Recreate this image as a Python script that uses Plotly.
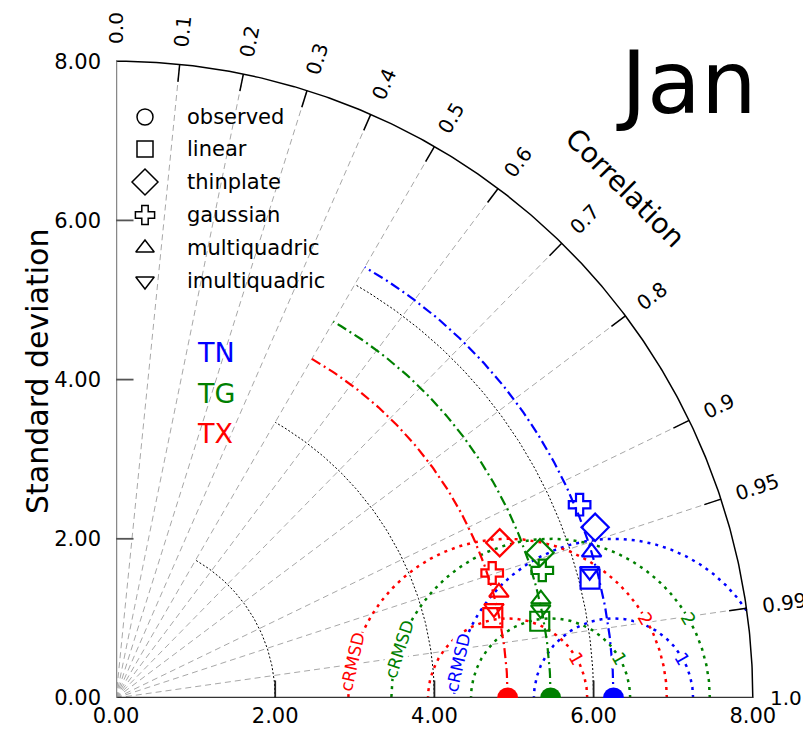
import numpy as np
import plotly.graph_objects as go

# ---------------- data ----------------
title_text = "Jan"
variables = ["TN", "TG", "TX"]
var_colors = ["#0000ff", "#008000", "#ff0000"]
obs_std = [6.25, 5.46, 4.92]

methods = ["linear", "thinplate", "gaussian", "multiquadric", "imultiquadric"]
method_symbols = ["square-open", "diamond-open", "cross-open", "triangle-up-open", "triangle-down-open"]
method_sizes = [19, 21, 18, 17, 17]

TN_std = [6.14, 6.39, 6.31, 6.25, 6.16]
TN_corr = [0.970, 0.942, 0.923, 0.956, 0.966]
TG_std = [5.41, 5.63, 5.59, 5.48, 5.45]
TG_corr = [0.984, 0.946, 0.958, 0.974, 0.979]
TX_std = [4.84, 5.20, 4.98, 4.99, 4.88]
TX_corr = [0.978, 0.927, 0.949, 0.964, 0.973]
model_std = [TN_std, TG_std, TX_std]
model_corr = [TN_corr, TG_corr, TX_corr]

corr_ticks = [0.0, 0.1, 0.2, 0.3, 0.4, 0.5, 0.6, 0.7, 0.8, 0.9, 0.95, 0.99, 1.0]
corr_labels = ["0.0", "0.1", "0.2", "0.3", "0.4", "0.5", "0.6", "0.7", "0.8", "0.9", "0.95", "0.99", "1.0"]
std_ticks = [0, 2, 4, 6, 8]
std_grid = [2, 4, 6]
crmsd_levels = [1, 2]
max_std = 8.0
arc_corr_min = 0.5

# ---------------- layout geometry ----------------
BODY = 8                      # page body margin of the html output
W, H = 811 - BODY, 736 - BODY
OX, OY = 116, 698             # origin in page pixels
ML = OX - BODY
MB = H - (OY - BODY)
S = 79.6                      # pixels per unit
PW, PH = W - ML, H - MB
XR = PW / S
YR = PH / S
FONT = "DejaVu Sans"


def px(xp, yp):
    """page pixel -> data coordinates"""
    return (xp - OX) / S, (OY - yp) / S


def polar(r, corr):
    t = np.arccos(np.clip(corr, -1, 1))
    return r * np.cos(t), r * np.sin(t)


fig = go.Figure()


def line(x, y, color, width, dash="solid"):
    fig.add_trace(go.Scatter(x=list(x), y=list(y), mode="lines",
                             line=dict(color=color, width=width, dash=dash),
                             hoverinfo="skip", showlegend=False))


# radial correlation lines
for c in corr_ticks[1:-1]:
    x, y = polar(np.array([0.0, max_std]), c)
    line(x, y, "#a8a8a8", 1, "6px,4px")

# std grid arcs (0..60 deg)
for r in std_grid:
    th = np.linspace(0, np.arccos(arc_corr_min), 100)
    line(r * np.cos(th), r * np.sin(th), "#000000", 1, "2px,2px")

# CRMSD circles
for vi, o in enumerate(obs_std):
    for lev in crmsd_levels:
        ph = np.linspace(0, np.pi, 400)
        xs = o + lev * np.cos(ph)
        ys = lev * np.sin(ph)
        rr = np.hypot(xs, ys)
        xs = np.where(rr <= max_std, xs, np.nan)
        ys = np.where(rr <= max_std, ys, np.nan)
        fig.add_trace(go.Scatter(x=xs, y=ys, mode="lines",
                                 line=dict(color=var_colors[vi], width=2.5, dash="3px,5px"),
                                 hoverinfo="skip", showlegend=False, connectgaps=False))

# observed std arcs (dash-dot)
for vi, o in enumerate(obs_std):
    th = np.linspace(0, np.arccos(arc_corr_min), 150)
    line(o * np.cos(th), o * np.sin(th), var_colors[vi], 2.2, "10px,4px,2px,4px")

# outer arc
th = np.linspace(0, np.pi / 2, 300)
line(max_std * np.cos(th), max_std * np.sin(th), "#000000", 1.5)
# correlation ticks
for c in corr_ticks[1:-1]:
    x, y = polar(np.array([max_std - 0.22, max_std]), c)
    line(x, y, "#000000", 1.5)

# axes lines
line([0, max_std], [0, 0], "#333333", 2.5)
line([0, 0], [0, max_std], "#888888", 2.5)
for t in std_ticks[1:-1]:
    line([t, t], [0, 0.22], "#222222", 1.8)
    line([0, 0.22], [t, t], "#555555", 1.8)

# model markers
for vi in range(len(variables)):
    for mi in range(len(methods)):
        x, y = polar(model_std[vi][mi], model_corr[vi][mi])
        fig.add_trace(go.Scatter(x=[x], y=[y], mode="markers",
                                 marker=dict(symbol=method_symbols[mi], size=method_sizes[mi],
                                             color=var_colors[vi],
                                             line=dict(color=var_colors[vi], width=2.2)),
                                 hoverinfo="skip", showlegend=False))

# observed points (filled circles on x axis)
for vi, o in enumerate(obs_std):
    fig.add_trace(go.Scatter(x=[o], y=[0], mode="markers",
                             marker=dict(symbol="circle", size=21, color=var_colors[vi]),
                             hoverinfo="skip", showlegend=False))

# legend (manual)
leg_names = ["observed"] + methods
leg_syms = ["circle-open"] + method_symbols
leg_sizes = [16, 16, 20, 16, 16, 16]
leg_rows = [117, 149, 182, 215, 248, 281]
for name, sym, sz, yp in zip(leg_names, leg_syms, leg_sizes, leg_rows):
    x, y = px(145, yp)
    fig.add_trace(go.Scatter(x=[x], y=[y], mode="markers",
                             marker=dict(symbol=sym, size=sz, color="#000000",
                                         line=dict(color="#000000", width=1.5)),
                             hoverinfo="skip", showlegend=False, cliponaxis=False))
    tx, ty = px(185, yp)
    fig.add_annotation(x=tx, y=ty, text=name, showarrow=False, xanchor="left", yanchor="middle",
                       font=dict(family=FONT, size=21, color="#000000"))

annotations = []
# correlation labels
for c, lab in zip(corr_ticks, corr_labels):
    t = np.arccos(c)
    rc = 8.22 + 0.5 * len(lab) * 10.5 / S
    annotations.append(dict(x=rc * np.cos(t), y=rc * np.sin(t), text=lab, showarrow=False,
                            textangle=-np.degrees(t), xanchor="center", yanchor="middle",
                            font=dict(family=FONT, size=20, color="#000000")))
# Correlation title
t = np.radians(45.1)
annotations.append(dict(x=9.05 * np.cos(t), y=9.05 * np.sin(t), text="Correlation", showarrow=False,
                        textangle=45, xanchor="center", yanchor="middle",
                        font=dict(family=FONT, size=28, color="#000000")))
# Jan
jx, jy = px(686, 82)
annotations.append(dict(x=jx, y=jy, text=title_text, showarrow=False, xanchor="center", yanchor="middle",
                        font=dict(family=FONT, size=88, color="#000000")))
# variable labels
for vi, (name, yp) in enumerate(zip(variables, [352, 393, 433])):
    x, y = px(195, yp)
    annotations.append(dict(x=x, y=y, text=name, showarrow=False, xanchor="left", yanchor="middle",
                            font=dict(family=FONT, size=27, color=var_colors[vi])))

# crmsd labels
crmsd_label_phi = [167, 162, 167]  # degrees on the level-2 circle (TN, TG, TX)
for vi, o in enumerate(obs_std):
    ph = np.radians(crmsd_label_phi[vi])
    annotations.append(dict(x=o + 2 * np.cos(ph), y=2 * np.sin(ph), text="cRMSD", showarrow=False,
                            textangle=-(crmsd_label_phi[vi] - 90), bgcolor="rgba(255,255,255,1)",
                            borderpad=0, xanchor="center", yanchor="middle",
                            font=dict(family=FONT, size=17, color=var_colors[vi])))
    for lev in crmsd_levels:
        ph = np.arcsin(min(1.0, 1.0 / lev * (0.5 if lev == 1 else 1.0)))
        lx, ly = o + lev * np.cos(ph), lev * np.sin(ph)
        if np.hypot(lx, ly) > max_std - 0.1:
            continue
        annotations.append(dict(x=lx, y=ly, text=str(lev), showarrow=False,
                                textangle=90 - np.degrees(ph), bgcolor="rgba(255,255,255,1)",
                                borderpad=0, xanchor="center", yanchor="middle",
                                font=dict(family=FONT, size=18, color=var_colors[vi])))

# y title (paper coordinates so it is not hidden outside the axis range)
annotations.append(dict(xref="paper", yref="paper", x=(37 - OX) / PW, y=(OY - 372) / PH,
                        text="Standard deviation", showarrow=False, textangle=-90,
                        xanchor="center", yanchor="middle",
                        font=dict(family=FONT, size=30, color="#000000")))

for a in annotations:
    fig.add_annotation(**a)

fig.update_layout(
    width=W, height=H,
    margin=dict(l=ML, r=0, t=0, b=MB, pad=0),
    paper_bgcolor="white", plot_bgcolor="white",
    showlegend=False,
    xaxis=dict(range=[0, XR], showgrid=False, zeroline=False, showline=False,
               tickvals=std_ticks, ticktext=[f"{v:.2f}" for v in std_ticks],
               tickfont=dict(family=FONT, size=21, color="#000000"), ticks="",
               ticklabelstandoff=3, automargin=False),
    yaxis=dict(range=[0, YR], showgrid=False, zeroline=False, showline=False,
               tickvals=std_ticks, ticktext=[f"{v:.2f}" for v in std_ticks],
               tickfont=dict(family=FONT, size=21, color="#000000"), ticks="",
               ticklabelstandoff=14, automargin=False),
)

fig.write_html("out.html")
